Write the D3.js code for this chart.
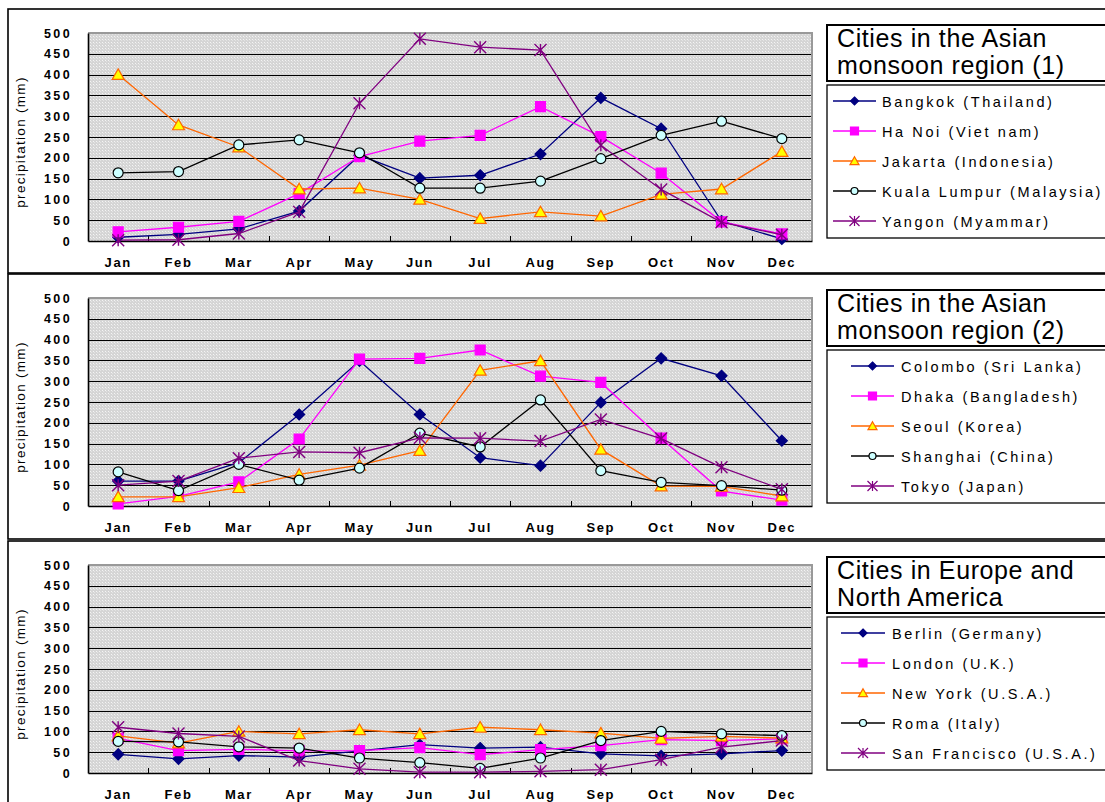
<!DOCTYPE html>
<html>
<head>
<meta charset="utf-8">
<script src="https://cdn.jsdelivr.net/npm/d3@7"></script>
<style>
  body { margin: 0; background: #fff; }
  svg { display: block; font-family: "Liberation Sans", Arial, sans-serif; }
</style>
</head>
<body>
<svg id="chart" width="1105" height="802"></svg>
<script>
// Monthly precipitation (mm)
const months = ["Jan", "Feb", "Mar", "Apr", "May", "Jun", "Jul", "Aug", "Sep", "Oct", "Nov", "Dec"];
const yTicks = [0, 50, 100, 150, 200, 250, 300, 350, 400, 450, 500];

// Asian monsoon region (1)
const bangkok      = [9, 16, 29, 72, 206, 151, 158, 209, 344, 270, 48, 5];
const hanoi        = [22, 33, 47, 114, 203, 240, 254, 323, 251, 163, 46, 17];
const jakarta      = [400, 279, 226, 125, 127, 100, 54, 70, 60, 112, 125, 215];
const kualaLumpur  = [164, 167, 231, 243, 212, 127, 127, 144, 198, 254, 288, 246];
const yangon       = [2, 3, 18, 70, 331, 486, 466, 459, 230, 124, 45, 15];

// Asian monsoon region (2)
const colombo      = [60, 60, 104, 220, 349, 220, 116, 97, 249, 355, 313, 157];
const dhaka        = [5, 23, 58, 161, 353, 355, 375, 312, 297, 163, 36, 14];
const seoul        = [22, 22, 44, 76, 98, 133, 326, 349, 136, 48, 47, 24];
const shanghai     = [82, 37, 100, 62, 91, 175, 142, 255, 85, 57, 49, 38];
const tokyo        = [50, 60, 115, 130, 128, 164, 163, 156, 208, 162, 93, 40];

// Europe and North America
const berlin       = [45, 34, 42, 38, 53, 68, 60, 62, 46, 41, 46, 54];
const london       = [83, 54, 57, 53, 54, 61, 44, 56, 66, 80, 78, 82];
const newYork      = [89, 72, 100, 94, 104, 94, 110, 104, 96, 83, 88, 84];
const roma         = [76, 75, 63, 60, 36, 25, 11, 36, 78, 100, 94, 90];
const sanFrancisco = [110, 95, 88, 30, 10, 2, 2, 4, 8, 32, 62, 78];

const titles1 = ["Cities in the Asian", "monsoon region (1)"];
const titles2 = ["Cities in the Asian", "monsoon region (2)"];
const titles3 = ["Cities in Europe and", "North America"];

const cities1 = ["Bangkok (Thailand)", "Ha Noi (Viet nam)", "Jakarta (Indonesia)", "Kuala Lumpur (Malaysia)", "Yangon (Myammar)"];
const cities2 = ["Colombo (Sri Lanka)", "Dhaka (Bangladesh)", "Seoul (Korea)", "Shanghai (China)", "Tokyo (Japan)"];
const cities3 = ["Berlin (Germany)", "London (U.K.)", "New York (U.S.A.)", "Roma (Italy)", "San Francisco (U.S.A.)"];

const yLabel = "precipitation (mm)";

// ---- styling / layout ----
const seriesStyles = [
  { line: "#000080", marker: "diamond",  fill: "#000080", stroke: "#000080" },
  { line: "#ff00ff", marker: "square",   fill: "#ff00ff", stroke: "#ff00ff" },
  { line: "#ff6600", marker: "triangle", fill: "#ffff00", stroke: "#ff6600" },
  { line: "#000000", marker: "circle",   fill: "#ccffff", stroke: "#000000" },
  { line: "#800080", marker: "asterisk", fill: "none",    stroke: "#800080" }
];

const panels = [
  { off: 0,   frame: [9, 273],   titles: titles1, names: cities1, data: [bangkok, hanoi, jakarta, kualaLumpur, yangon], legLine: [833, 876], legText: 882 },
  { off: 265, frame: [274, 539], titles: titles2, names: cities2, data: [colombo, dhaka, seoul, shanghai, tokyo],        legLine: [851, 894], legText: 901 },
  { off: 532, frame: [541, 830], titles: titles3, names: cities3, data: [berlin, london, newYork, roma, sanFrancisco],    legLine: [841, 885], legText: 892 }
];

const plotLeft = 88, plotRight = 812, plotTop = 33, plotBottom = 241;

function markerPath(type, s) {
  const h = s / 2;
  switch (type) {
    case "diamond":  return `M0,${-h}L${h},0L0,${h}L${-h},0Z`;
    case "square":   return `M${-h},${-h}H${h}V${h}H${-h}Z`;
    case "triangle": return `M0,${-h * 0.95}L${h},${h * 0.8}L${-h},${h * 0.8}Z`;
    case "circle":   return `M${h},0A${h},${h} 0 1 1 ${-h},0A${h},${h} 0 1 1 ${h},0Z`;
    case "asterisk": return `M${-h},${-h}L${h},${h}M${-h},${h}L${h},${-h}M0,${-h}L0,${h}`;
  }
}
const plotMarkerSize = { diamond: 11, square: 10, triangle: 12, circle: 10, asterisk: 12 };
const legendMarkerSize = { diamond: 8, square: 8, triangle: 9, circle: 7, asterisk: 10 };

const svg = d3.select("#chart");
const defs = svg.append("defs");
const pat = defs.append("pattern")
  .attr("id", "dots").attr("width", 3).attr("height", 3)
  .attr("patternUnits", "userSpaceOnUse");
pat.append("rect").attr("width", 3).attr("height", 3).attr("fill", "#d5d5d5");
pat.append("rect").attr("width", 1).attr("height", 1).attr("fill", "#f4f4f4");
pat.append("rect").attr("x", 1).attr("y", 1).attr("width", 1).attr("height", 1).attr("fill", "#e4e4e4");

const x = d3.scaleBand().domain(months).range([plotLeft, plotRight]).padding(0);
const cx = m => x(m) + x.bandwidth() / 2;

panels.forEach(p => {
  const g = svg.append("g");
  const y = d3.scaleLinear().domain([0, 500]).range([plotBottom + p.off, plotTop + p.off]);

  // panel frame
  g.append("rect")
    .attr("x", 8).attr("y", p.frame[0])
    .attr("width", 1200).attr("height", p.frame[1] - p.frame[0])
    .attr("fill", "none").attr("stroke", "#000").attr("stroke-width", 1.6);

  // plot background
  g.append("rect")
    .attr("x", plotLeft).attr("y", y(500))
    .attr("width", plotRight - plotLeft).attr("height", y(0) - y(500))
    .attr("fill", "url(#dots)");

  // gridlines
  g.append("g").selectAll("line")
    .data(yTicks.filter(t => t > 0 && t < 500))
    .join("line")
    .attr("x1", plotLeft).attr("x2", plotRight)
    .attr("y1", d => Math.round(y(d)) + 0.5).attr("y2", d => Math.round(y(d)) + 0.5)
    .attr("stroke", "#000").attr("stroke-width", 1);

  // top/right border
  g.append("path")
    .attr("d", `M${plotLeft},${y(500)}H${plotRight}V${y(0)}`)
    .attr("fill", "none").attr("stroke", "#999").attr("stroke-width", 2);

  // y axis
  const ya = g.append("g")
    .attr("transform", `translate(${plotLeft},0)`)
    .call(d3.axisLeft(y).tickValues(yTicks).tickSize(0).tickSizeOuter(0).tickPadding(16));
  ya.select(".domain").attr("stroke", "#000").attr("stroke-width", 1.6);
  ya.selectAll("text")
    .attr("fill", "#000").attr("font-size", 12.5).attr("font-weight", "bold")
    .attr("font-family", "'Liberation Sans', Arial, sans-serif")
    .style("letter-spacing", "2.4px");

  // x axis
  const xa = g.append("g")
    .attr("transform", `translate(0,${y(0)})`)
    .call(d3.axisBottom(x).tickSize(0).tickSizeOuter(0).tickPadding(17));
  xa.select(".domain").attr("stroke", "#000").attr("stroke-width", 1.6);
  xa.selectAll("text")
    .attr("fill", "#000").attr("font-size", 13).attr("font-weight", "bold")
    .attr("font-family", "'Liberation Sans', Arial, sans-serif")
    .style("letter-spacing", "1.6px");

  // category separators on the x axis
  g.append("g").selectAll("line")
    .data(months.slice(1))
    .join("line")
    .attr("x1", d => Math.round(x(d)) + 0.5).attr("x2", d => Math.round(x(d)) + 0.5)
    .attr("y1", y(0)).attr("y2", y(0) - 5)
    .attr("stroke", "#000").attr("stroke-width", 1);

  // y label
  g.append("text")
    .attr("transform", `translate(25,${142 + p.off}) rotate(-90)`)
    .attr("text-anchor", "middle")
    .attr("font-size", 13.5).style("letter-spacing", "1.3px")
    .text(yLabel);

  // series
  p.data.forEach((vals, i) => {
    const st = seriesStyles[i];
    const pts = months.map((m, j) => ({ m, v: vals[j] }));
    const line = d3.line().x(d => cx(d.m)).y(d => y(d.v));
    g.append("path")
      .datum(pts)
      .attr("d", line)
      .attr("fill", "none").attr("stroke", st.line).attr("stroke-width", 1.3);
    g.append("g").selectAll("path")
      .data(pts)
      .join("path")
      .attr("transform", d => `translate(${cx(d.m)},${y(d.v)})`)
      .attr("d", markerPath(st.marker, plotMarkerSize[st.marker]))
      .attr("fill", st.fill).attr("stroke", st.stroke)
      .attr("stroke-width", st.marker === "asterisk" ? 1.4 : 1.2);
  });

  // title box
  g.append("rect")
    .attr("x", 827).attr("y", 25 + p.off).attr("width", 300).attr("height", 56)
    .attr("fill", "#fff").attr("stroke", "#000").attr("stroke-width", 2);
  g.append("g").selectAll("text")
    .data(p.titles)
    .join("text")
    .attr("x", 837).attr("y", (d, i) => 47 + p.off + i * 27)
    .attr("font-size", 25).style("letter-spacing", "0.6px")
    .attr("fill", "#000")
    .text(d => d);

  // legend box
  g.append("rect")
    .attr("x", 827).attr("y", 85 + p.off).attr("width", 300).attr("height", 153)
    .attr("fill", "#fff").attr("stroke", "#000").attr("stroke-width", 1.3);
  const le = g.append("g").selectAll("g")
    .data(p.names)
    .join("g")
    .attr("transform", (d, i) => `translate(0,${101 + p.off + i * 30})`);
  le.append("line")
    .attr("x1", p.legLine[0]).attr("x2", p.legLine[1])
    .attr("stroke", (d, i) => seriesStyles[i].line).attr("stroke-width", 1.3);
  le.append("path")
    .attr("transform", `translate(${(p.legLine[0] + p.legLine[1]) / 2},0)`)
    .attr("d", (d, i) => markerPath(seriesStyles[i].marker, legendMarkerSize[seriesStyles[i].marker]))
    .attr("fill", (d, i) => seriesStyles[i].fill)
    .attr("stroke", (d, i) => seriesStyles[i].stroke)
    .attr("stroke-width", 1.2);
  le.append("text")
    .attr("x", p.legText).attr("y", 5.5)
    .attr("font-size", 14.5).style("letter-spacing", "2.6px")
    .attr("fill", "#000")
    .text(d => d);
});
</script>
</body>
</html>
